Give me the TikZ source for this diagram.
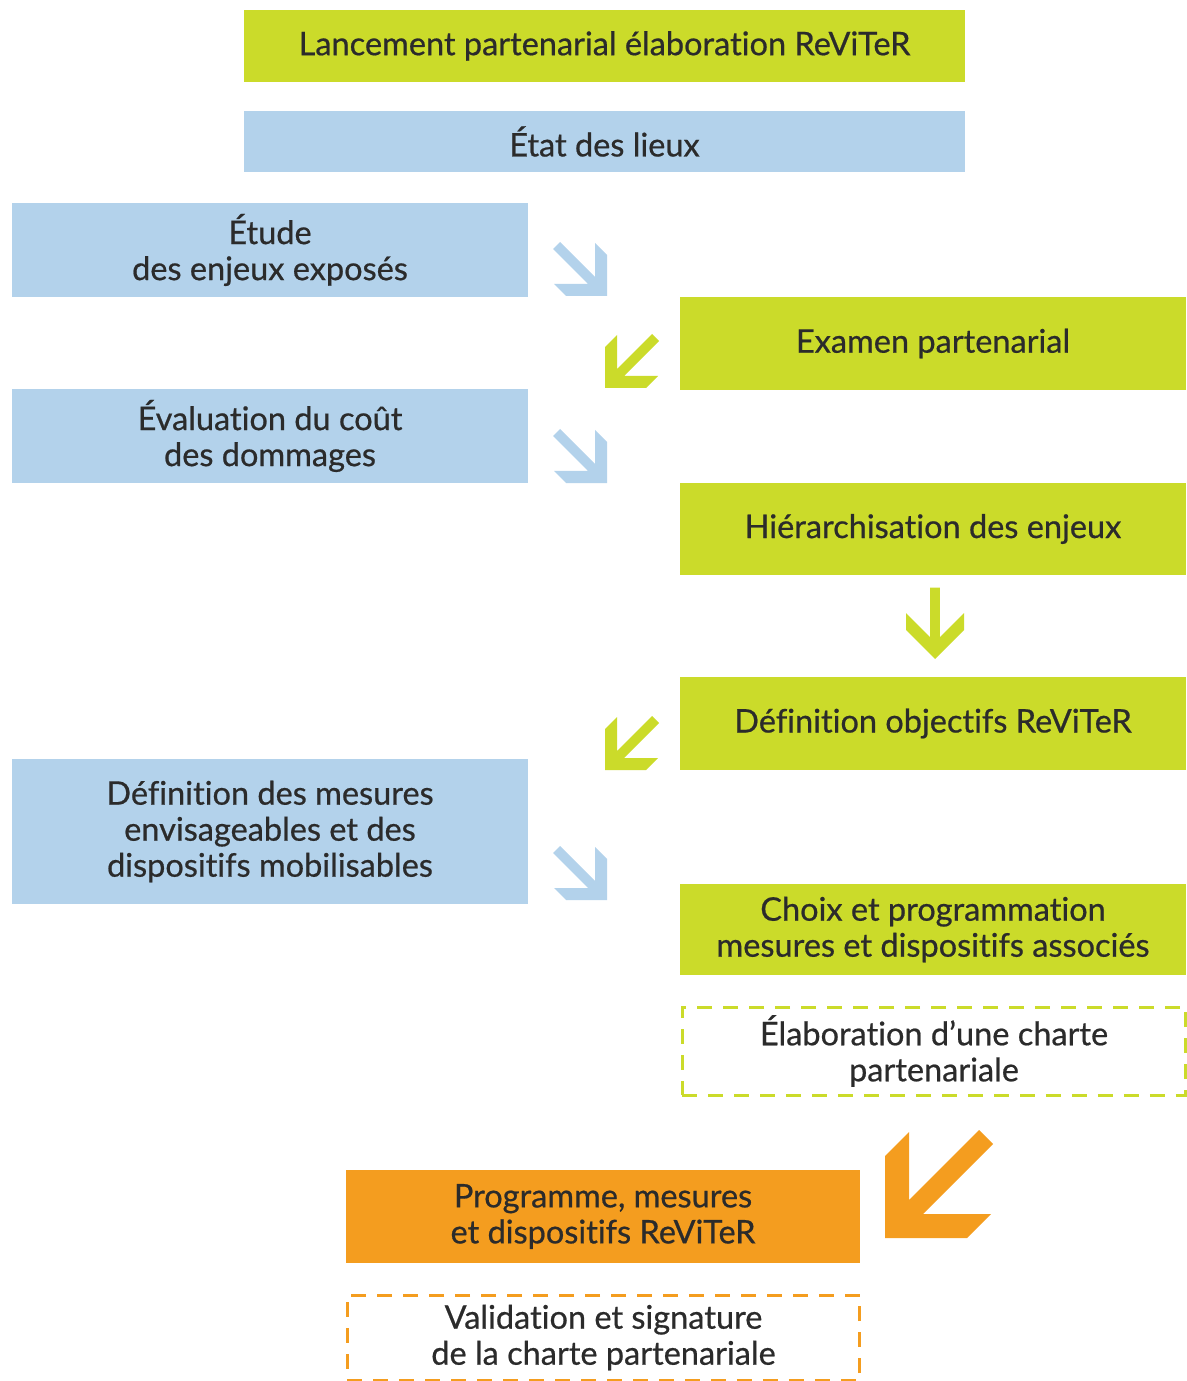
\documentclass[tikz,border=0pt]{standalone}
\usepackage{fontspec}
\setmainfont{Lato}[FakeBold=0.6, Ligatures=NoCommon]
\usetikzlibrary{positioning}
\definecolor{vert}{HTML}{CBDB2A}
\definecolor{bleu}{HTML}{B3D2EB}
\definecolor{orange}{HTML}{F49D1F}
\definecolor{texte}{HTML}{2B2B2B}
\tikzset{
    %Define standard box
    boite/.style={
           rectangle,
           inner sep=0pt,
           text=texte,
           align=center,
           font=\fontsize{18.5}{20.5}\selectfont},
    %Define coloured boxes
    vertbox/.style={boite, fill=vert},
    bleubox/.style={boite, fill=bleu},
    orangebox/.style={boite, fill=orange},
    %Define dashed boxes
    tiret/.style={
           boite,
           draw=#1,
           line width=0.06cm,
           dash pattern=on 0.3cm off 0.22cm},
    % Define arrow shape (tip at origin)
    fleche/.pic={
           \fill (0,0) -- (0,-41) -- (-12,-53) -- (-12,-19) -- (-47,-54)
             -- (-54,-47) -- (-19,-12) -- (-53,-12) -- (-41,0) -- cycle;}
}
\begin{document}
\begin{tikzpicture}[x=0.02cm, y=-0.02cm]
\useasboundingbox (0,0) rectangle (1186,1381);
%top of the chart
\node[vertbox, minimum width=14.42cm, minimum height=1.44cm] (lancement) at (604.5,46) {Lancement partenarial élaboration ReViTeR};
\node[bleubox, minimum width=14.42cm, minimum height=1.22cm] (etat) at (604.5,141.5) {État des lieux};
%left column
\node[bleubox, minimum width=10.32cm, minimum height=1.88cm] (etude) at (270,250) {Étude\\des enjeux exposés};
\node[bleubox, minimum width=10.32cm, minimum height=1.88cm] (evaluation) at (270,436) {Évaluation du coût\\des dommages};
\node[bleubox, minimum width=10.32cm, minimum height=2.9cm] (mesures) at (270,831.5) {Définition des mesures\\envisageables et des\\dispositifs mobilisables};
%right column
\node[vertbox, minimum width=10.12cm, minimum height=1.86cm] (examen) at (933,343.5) {Examen partenarial};
\node[vertbox, minimum width=10.12cm, minimum height=1.84cm] (hierarchie) at (933,529) {Hiérarchisation des enjeux};
\node[vertbox, minimum width=10.12cm, minimum height=1.86cm] (objectifs) at (933,723.5) {Définition objectifs ReViTeR};
\node[vertbox, minimum width=10.12cm, minimum height=1.82cm] (choix) at (933,929.5) {Choix et programmation\\mesures et dispositifs associés};
\node[tiret=vert, minimum width=10.08cm, minimum height=1.76cm] (charte) at (934,1051) {Élaboration d’une charte\\partenariale};
%bottom of the chart
\node[orangebox, minimum width=10.28cm, minimum height=1.86cm] (programme) at (603,1216.5) {Programme, mesures\\et dispositifs ReViTeR};
\node[tiret=orange, minimum width=10.26cm, minimum height=1.7cm] (validation) at (603.5,1337.5) {Validation et signature\\de la charte partenariale};
%arrows between the columns
\pic[fill=bleu] at (607,296) {fleche};
\pic[fill=vert, xscale=-1] at (605,388) {fleche};
\pic[fill=bleu] at (607,483) {fleche};
\pic[fill=vert, rotate=-45] at (935,659) {fleche};
\pic[fill=vert, xscale=-1] at (605,770) {fleche};
\pic[fill=bleu] at (607,900) {fleche};
\pic[fill=orange, xscale=-1, scale=2] at (885,1238) {fleche};
\end{tikzpicture}
\end{document}
